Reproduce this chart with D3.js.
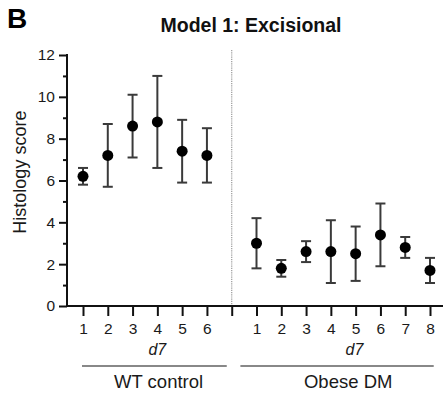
<!DOCTYPE html>
<html>
<head>
<meta charset="utf-8">
<script src="https://cdn.jsdelivr.net/npm/d3@7"></script>
<style>
  body { margin: 0; background: #fff; }
  svg { font-family: "Liberation Sans", Arial, sans-serif; }
</style>
</head>
<body>
<svg id="vis" width="446" height="393"></svg>
<script>
// slots 1-6 = WT control, 7 = separator, 8-15 = Obese DM
const wtMean = [6.2, 7.2, 8.6, 8.8, 7.4, 7.2];
const wtLow = [5.8, 5.7, 7.1, 6.6, 5.9, 5.9];
const wtHigh = [6.6, 8.7, 10.1, 11.0, 8.9, 8.5];

const dmMean = [3.0, 1.8, 2.6, 2.6, 2.5, 3.4, 2.8, 1.7];
const dmLow = [1.8, 1.4, 2.1, 1.1, 1.2, 1.9, 2.3, 1.1];
const dmHigh = [4.2, 2.2, 3.1, 4.1, 3.8, 4.9, 3.3, 2.3];

const tickLabels = ["1", "2", "3", "4", "5", "6", "", "1", "2", "3", "4", "5", "6", "7", "8"];
const groups = ["WT control", "Obese DM"];
const yMajor = [0, 2, 4, 6, 8, 10, 12];
const yMinor = [1, 3, 5, 7, 9, 11];

const svg = d3.select("svg#vis");

const x = d3.scaleLinear().domain([1, 15]).range([83, 430]);
const y = d3.scaleLinear().domain([0, 12]).range([306, 55]);
const axisX = 67;

// build point table
const points = [];
wtMean.forEach(function(m, i) {
  points.push({slot: i + 1, mean: m, lo: wtLow[i], hi: wtHigh[i]});
});
dmMean.forEach(function(m, i) {
  points.push({slot: i + 8, mean: m, lo: dmLow[i], hi: dmHigh[i]});
});

// panel letter and title
svg.append("text").attr("x", 7).attr("y", 28)
  .attr("font-size", 28).attr("font-weight", "bold").text("B");
svg.append("text").attr("x", 251).attr("y", 32)
  .attr("text-anchor", "middle").attr("font-size", 19.5).attr("font-weight", "bold")
  .attr("fill", "#111").text("Model 1: Excisional");

// dotted separator
svg.append("line")
  .attr("x1", x(7)).attr("x2", x(7))
  .attr("y1", 50).attr("y2", y(0))
  .attr("stroke", "#999").attr("stroke-width", 1.2)
  .attr("stroke-dasharray", "1.2,1");

// y axis
const gy = svg.append("g").attr("transform", "translate(" + axisX + ",0)");
gy.call(d3.axisLeft(y).tickValues(yMajor).tickSize(8).tickPadding(4).tickFormat(d3.format("d")));
const gyMinor = svg.append("g").attr("transform", "translate(" + axisX + ",0)");
gyMinor.call(d3.axisLeft(y).tickValues(yMinor).tickSize(4).tickFormat(""));
[gy, gyMinor].forEach(function(g) {
  g.select(".domain").remove();
  g.selectAll(".tick line").attr("stroke", "#111").attr("stroke-width", 2);
});
gy.selectAll(".tick text").attr("font-size", 15.5).attr("fill", "#1a1a1a")
  .attr("font-family", "Liberation Sans, Arial, sans-serif");
svg.append("line")
  .attr("x1", axisX).attr("x2", axisX)
  .attr("y1", y(12) - 1).attr("y2", y(0) + 1)
  .attr("stroke", "#111").attr("stroke-width", 2);

svg.append("text")
  .attr("transform", "translate(26," + y(6.4) + ") rotate(-90)")
  .attr("text-anchor", "middle").attr("font-size", 18).attr("fill", "#1a1a1a")
  .text("Histology score");

// x axis
const gx = svg.append("g").attr("transform", "translate(0," + y(0) + ")");
gx.call(d3.axisBottom(x).tickValues(d3.range(1, 16)).tickSize(10).tickPadding(7)
  .tickFormat(function(d) { return tickLabels[d - 1]; }));
gx.select(".domain").remove();
gx.selectAll(".tick line").attr("stroke", "#111").attr("stroke-width", 2);
gx.selectAll(".tick text").attr("font-size", 15.5).attr("fill", "#1a1a1a")
  .attr("font-family", "Liberation Sans, Arial, sans-serif");
svg.append("line")
  .attr("x1", axisX - 1).attr("x2", 443)
  .attr("y1", y(0)).attr("y2", y(0))
  .attr("stroke", "#111").attr("stroke-width", 2);

// d7 labels, group lines, group names
const groupInfo = [
  {name: groups[0], d7: 4.0, from: 0.96, to: 6.8, center: 4.05},
  {name: groups[1], d7: 11.95, from: 7.35, to: 15.15, center: 11.7}
];
groupInfo.forEach(function(d) {
  svg.append("text").attr("x", x(d.d7)).attr("y", 355)
    .attr("text-anchor", "middle").attr("font-size", 16).attr("font-style", "italic")
    .attr("fill", "#1a1a1a").text("d7");
  svg.append("line")
    .attr("x1", x(d.from)).attr("x2", x(d.to))
    .attr("y1", 366).attr("y2", 366)
    .attr("stroke", "#888").attr("stroke-width", 2);
  svg.append("text").attr("x", x(d.center)).attr("y", 388)
    .attr("text-anchor", "middle").attr("font-size", 18.5).attr("fill", "#1a1a1a")
    .text(d.name);
});

// error bars
const bars = svg.append("g").attr("id", "bars");
const capW = 5;
bars.selectAll("line.whisker")
  .data(points).enter().append("line")
  .attr("class", "whisker")
  .attr("x1", d => x(d.slot)).attr("x2", d => x(d.slot))
  .attr("y1", d => y(d.lo)).attr("y2", d => y(d.hi));
bars.selectAll("line.capTop")
  .data(points).enter().append("line")
  .attr("class", "capTop")
  .attr("x1", d => x(d.slot) - capW).attr("x2", d => x(d.slot) + capW)
  .attr("y1", d => y(d.hi)).attr("y2", d => y(d.hi));
bars.selectAll("line.capBottom")
  .data(points).enter().append("line")
  .attr("class", "capBottom")
  .attr("x1", d => x(d.slot) - capW).attr("x2", d => x(d.slot) + capW)
  .attr("y1", d => y(d.lo)).attr("y2", d => y(d.lo));
bars.selectAll("line").attr("stroke", "#3a3a3a").attr("stroke-width", 2);

// mean symbols
svg.append("g").selectAll("circle")
  .data(points).enter().append("circle")
  .attr("cx", d => x(d.slot))
  .attr("cy", d => y(d.mean))
  .attr("r", 5.5)
  .attr("fill", "#000");
</script>
</body>
</html>
